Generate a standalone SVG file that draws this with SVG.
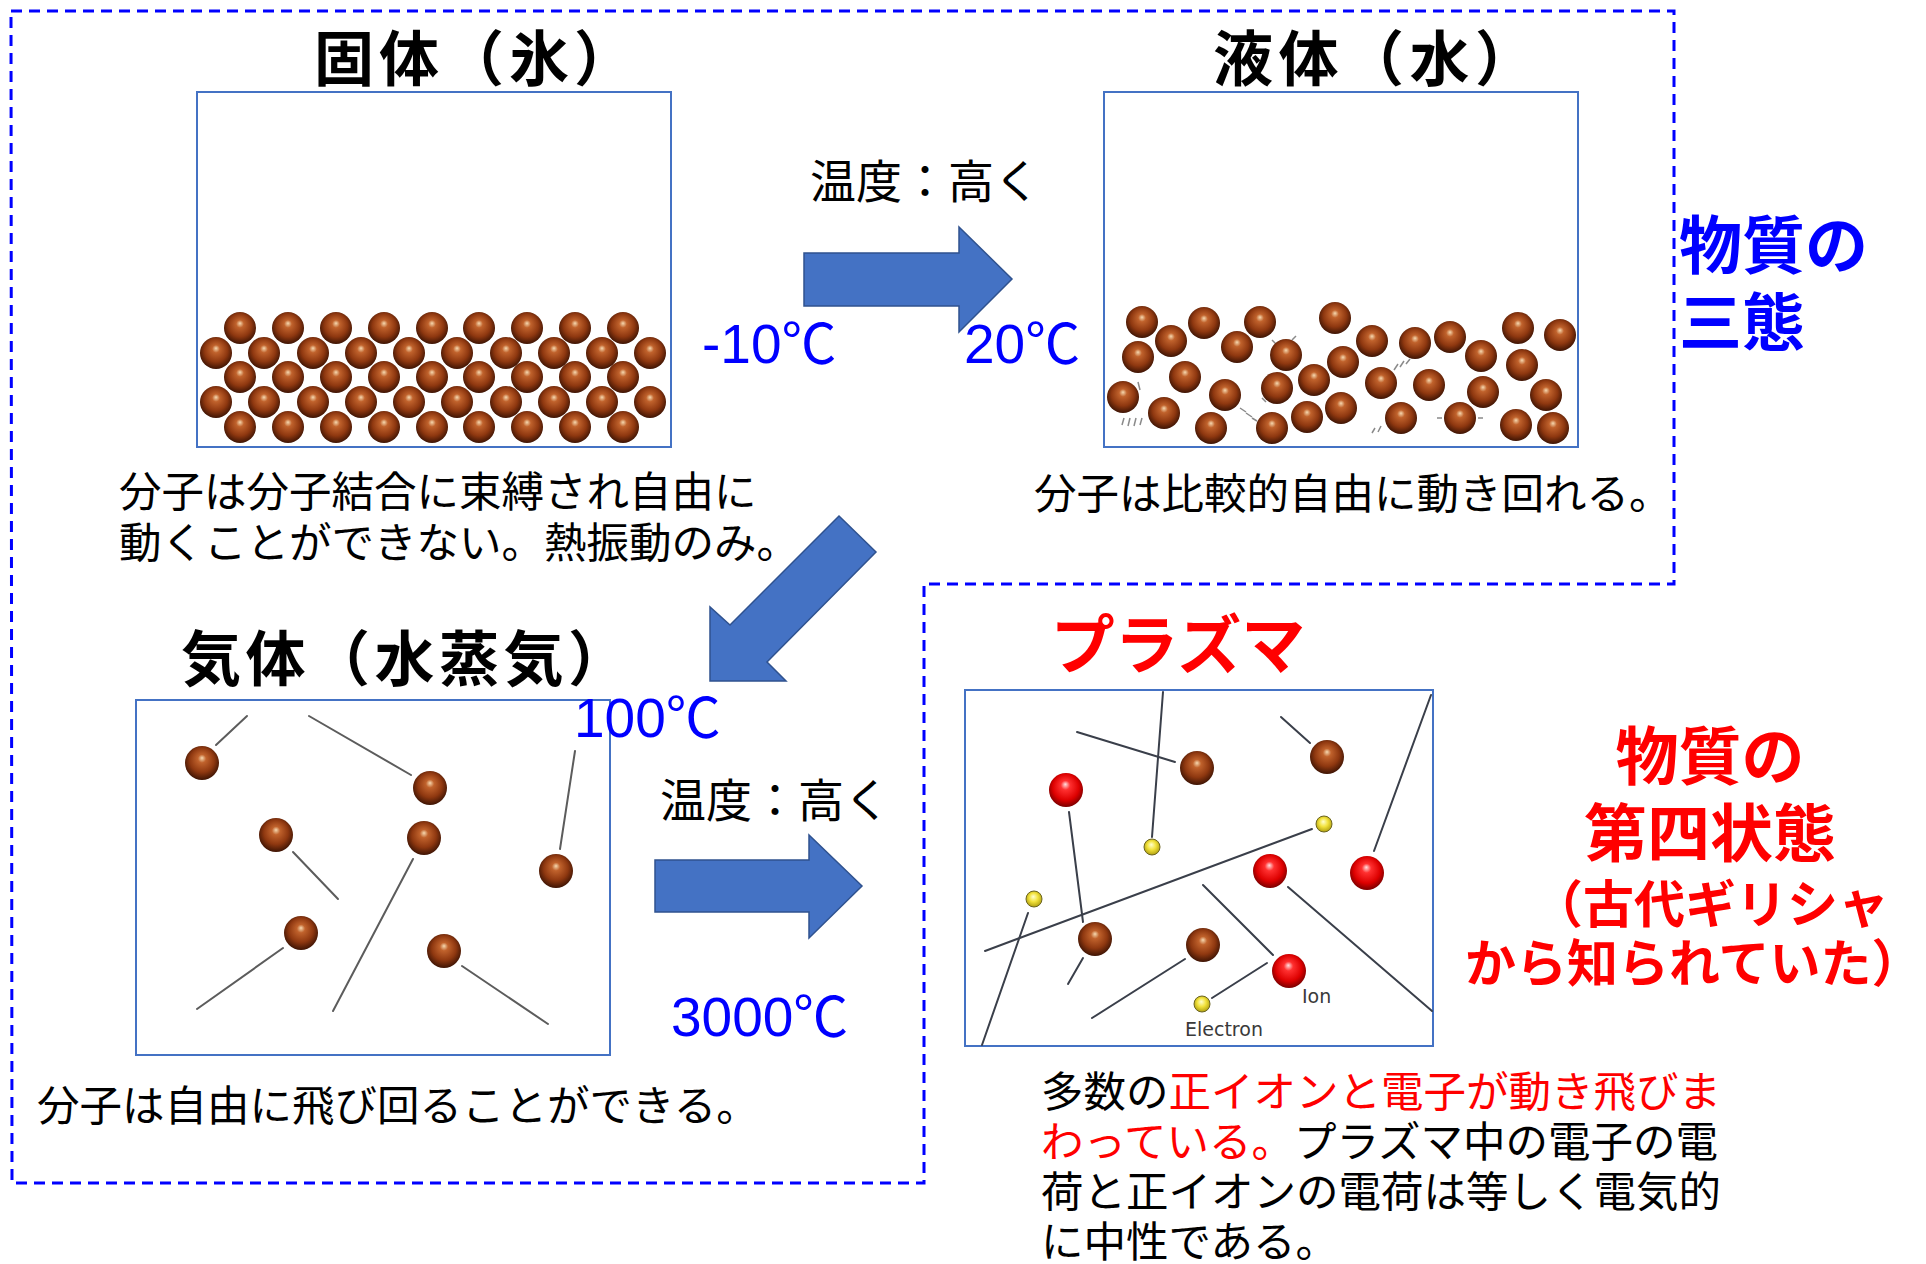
<svg xmlns="http://www.w3.org/2000/svg" width="1926" height="1264" viewBox="0 0 1926 1264">
  <defs>
    <radialGradient id="gBrown" cx="0.5" cy="0.45" r="0.55" fx="0.5" fy="0.35">
      <stop offset="0" stop-color="#f6d9b0"/>
      <stop offset="0.22" stop-color="#c0622c"/>
      <stop offset="0.65" stop-color="#8f3810"/>
      <stop offset="1" stop-color="#3e1404"/>
    </radialGradient>
    <radialGradient id="gRed" cx="0.5" cy="0.45" r="0.55" fx="0.48" fy="0.33">
      <stop offset="0" stop-color="#ffe0e0"/>
      <stop offset="0.25" stop-color="#ff3030"/>
      <stop offset="0.7" stop-color="#dd0000"/>
      <stop offset="1" stop-color="#7a0000"/>
    </radialGradient>
    <radialGradient id="gYel" cx="0.5" cy="0.45" r="0.55" fx="0.45" fy="0.35">
      <stop offset="0" stop-color="#ffffd0"/>
      <stop offset="0.5" stop-color="#f2e23c"/>
      <stop offset="1" stop-color="#b0a010"/>
    </radialGradient>
    <style>
      .frame { fill: none; stroke: #0000ff; stroke-width: 3; stroke-dasharray: 11 7; }
      .box { fill: #ffffff; stroke: #4472c4; stroke-width: 2; }
      .mol { fill: url(#gBrown); }
      .ion { fill: url(#gRed); }
      .ele { fill: url(#gYel); stroke: #6b6420; stroke-width: 1; }
      .trail { stroke: #5c5c5c; stroke-width: 2; fill: none; stroke-linecap: round; }
      .ptrail { stroke: #3a3f4a; stroke-width: 2; fill: none; stroke-linecap: round; }
      .tick { stroke: #8a8a8a; stroke-width: 1.5; fill: none; }
      .arrow { fill: #4472c4; stroke: #2f528f; stroke-width: 1.5; }
      .title { font-family: "Noto Sans CJK JP", sans-serif; font-size: 60px; font-weight: 700; fill: #000000; }
      .desc { font-family: "Noto Sans CJK JP", sans-serif; font-size: 42.5px; fill: #000000; }
      .temp { font-family: "Liberation Sans", "Noto Sans CJK JP", sans-serif; font-size: 55px; fill: #0000ff; }
      .deg { font-family: "Noto Sans CJK JP", sans-serif; }
      .heat { font-family: "Noto Sans CJK JP", sans-serif; font-size: 46px; fill: #000000; }
      .state { font-family: "Noto Sans CJK JP", sans-serif; font-weight: 700; }
      .red { fill: #ff0000; }
      .lbl { font-family: "DejaVu Sans", "Liberation Sans", sans-serif; font-size: 19px; fill: #3a3a3a; }
    </style>
  </defs>

  <rect width="1926" height="1264" fill="#ffffff"/>

  <!-- dashed outline around the three ordinary states -->
  <path class="frame" d="M11,11 H1674 V584 H924 V1183 H12 Z"/>

  <!-- solid: ice -->
  <g id="solid">
    <text class="title" x="314" y="81" textLength="320" lengthAdjust="spacing">固体（氷）</text>
    <rect class="box" x="197" y="92" width="474" height="355"/>
    <g>
      <circle class="mol" cx="240" cy="328" r="16"/><circle class="mol" cx="288" cy="328" r="16"/><circle class="mol" cx="336" cy="328" r="16"/><circle class="mol" cx="384" cy="328" r="16"/><circle class="mol" cx="432" cy="328" r="16"/><circle class="mol" cx="479" cy="328" r="16"/><circle class="mol" cx="527" cy="328" r="16"/><circle class="mol" cx="575" cy="328" r="16"/><circle class="mol" cx="623" cy="328" r="16"/>
      <circle class="mol" cx="216" cy="353" r="16"/><circle class="mol" cx="264" cy="353" r="16"/><circle class="mol" cx="313" cy="353" r="16"/><circle class="mol" cx="361" cy="353" r="16"/><circle class="mol" cx="409" cy="353" r="16"/><circle class="mol" cx="457" cy="353" r="16"/><circle class="mol" cx="506" cy="353" r="16"/><circle class="mol" cx="554" cy="353" r="16"/><circle class="mol" cx="602" cy="353" r="16"/><circle class="mol" cx="650" cy="353" r="16"/>
      <circle class="mol" cx="240" cy="377" r="16"/><circle class="mol" cx="288" cy="377" r="16"/><circle class="mol" cx="336" cy="377" r="16"/><circle class="mol" cx="384" cy="377" r="16"/><circle class="mol" cx="432" cy="377" r="16"/><circle class="mol" cx="479" cy="377" r="16"/><circle class="mol" cx="527" cy="377" r="16"/><circle class="mol" cx="575" cy="377" r="16"/><circle class="mol" cx="623" cy="377" r="16"/>
      <circle class="mol" cx="216" cy="402" r="16"/><circle class="mol" cx="264" cy="402" r="16"/><circle class="mol" cx="313" cy="402" r="16"/><circle class="mol" cx="361" cy="402" r="16"/><circle class="mol" cx="409" cy="402" r="16"/><circle class="mol" cx="457" cy="402" r="16"/><circle class="mol" cx="506" cy="402" r="16"/><circle class="mol" cx="554" cy="402" r="16"/><circle class="mol" cx="602" cy="402" r="16"/><circle class="mol" cx="650" cy="402" r="16"/>
      <circle class="mol" cx="240" cy="427" r="16"/><circle class="mol" cx="288" cy="427" r="16"/><circle class="mol" cx="336" cy="427" r="16"/><circle class="mol" cx="384" cy="427" r="16"/><circle class="mol" cx="432" cy="427" r="16"/><circle class="mol" cx="479" cy="427" r="16"/><circle class="mol" cx="527" cy="427" r="16"/><circle class="mol" cx="575" cy="427" r="16"/><circle class="mol" cx="623" cy="427" r="16"/>
    </g>
    <text class="desc" x="119" y="507">分子は分子結合に束縛され自由に</text>
    <text class="desc" x="119" y="558">動くことができない。熱振動のみ。</text>
  </g>

  <!-- liquid: water -->
  <g id="liquid">
    <text class="title" x="1213" y="81" textLength="322" lengthAdjust="spacing">液体（水）</text>
    <rect class="box" x="1104" y="92" width="474" height="355"/>
    <g>
      <path class="tick" d="M1122,425 l2,-7 M1128,426 l2,-8 M1134,426 l2,-8 M1140,425 l2,-7 M1240,408 l6,4 M1246,413 l6,4 M1252,418 l5,3 M1372,433 l3,-5 M1378,432 l3,-6 M1394,370 l4,-6 M1400,367 l4,-6 M1406,364 l4,-5 M1138,382 l2,8 M1262,398 l4,4 M1272,340 l4,4 M1292,340 l4,-4 M1437,418 l5,0 M1478,418 l5,0"/>
      <circle class="mol" cx="1142" cy="322" r="16"/><circle class="mol" cx="1204" cy="323" r="16"/><circle class="mol" cx="1260" cy="322" r="16"/><circle class="mol" cx="1335" cy="318" r="16"/>
      <circle class="mol" cx="1171" cy="341" r="16"/><circle class="mol" cx="1237" cy="347" r="16"/><circle class="mol" cx="1372" cy="341" r="16"/><circle class="mol" cx="1415" cy="343" r="16"/><circle class="mol" cx="1450" cy="337" r="16"/><circle class="mol" cx="1518" cy="328" r="16"/><circle class="mol" cx="1560" cy="335" r="16"/>
      <circle class="mol" cx="1138" cy="357" r="16"/><circle class="mol" cx="1286" cy="355" r="16"/><circle class="mol" cx="1343" cy="362" r="16"/><circle class="mol" cx="1481" cy="356" r="16"/><circle class="mol" cx="1522" cy="365" r="16"/>
      <circle class="mol" cx="1185" cy="377" r="16"/><circle class="mol" cx="1314" cy="380" r="16"/><circle class="mol" cx="1277" cy="388" r="16"/><circle class="mol" cx="1381" cy="383" r="16"/><circle class="mol" cx="1429" cy="385" r="16"/><circle class="mol" cx="1483" cy="392" r="16"/><circle class="mol" cx="1546" cy="395" r="16"/>
      <circle class="mol" cx="1123" cy="397" r="16"/><circle class="mol" cx="1225" cy="395" r="16"/><circle class="mol" cx="1164" cy="413" r="16"/>
      <circle class="mol" cx="1307" cy="417" r="16"/><circle class="mol" cx="1341" cy="408" r="16"/><circle class="mol" cx="1401" cy="418" r="16"/><circle class="mol" cx="1460" cy="418" r="16"/>
      <circle class="mol" cx="1211" cy="428" r="16"/><circle class="mol" cx="1272" cy="428" r="16"/><circle class="mol" cx="1516" cy="425" r="16"/><circle class="mol" cx="1553" cy="428" r="16"/>
    </g>
    <text class="desc" x="1034" y="509">分子は比較的自由に動き回れる。</text>
  </g>

  <!-- gas: water vapour -->
  <g id="gas">
    <text class="title" x="181" y="681" textLength="447" lengthAdjust="spacing">気体（水蒸気）</text>
    <rect class="box" x="136" y="700" width="474" height="355"/>
    <g>
      <line class="trail" x1="216" y1="745" x2="247" y2="716"/>
      <line class="trail" x1="411" y1="775" x2="309" y2="716"/>
      <line class="trail" x1="293" y1="852" x2="338" y2="899"/>
      <line class="trail" x1="413" y1="859" x2="333" y2="1011"/>
      <line class="trail" x1="560" y1="849" x2="575" y2="751"/>
      <line class="trail" x1="283" y1="948" x2="197" y2="1009"/>
      <line class="trail" x1="462" y1="966" x2="548" y2="1024"/>
      <circle class="mol" cx="202" cy="763" r="17"/>
      <circle class="mol" cx="430" cy="788" r="17"/>
      <circle class="mol" cx="276" cy="835" r="17"/>
      <circle class="mol" cx="424" cy="838" r="17"/>
      <circle class="mol" cx="556" cy="871" r="17"/>
      <circle class="mol" cx="301" cy="933" r="17"/>
      <circle class="mol" cx="444" cy="951" r="17"/>
    </g>
    <text class="desc" x="37" y="1121">分子は自由に飛び回ることができる。</text>
  </g>

  <!-- plasma -->
  <g id="plasma">
    <text class="title red" x="1178" y="668" text-anchor="middle" style="font-size:64px">プラズマ</text>
    <rect class="box" x="965" y="690" width="468" height="356"/>
    <g>
      <line class="ptrail" x1="1077" y1="732" x2="1175" y2="762"/>
      <line class="ptrail" x1="1163" y1="692" x2="1152" y2="837"/>
      <line class="ptrail" x1="1281" y1="717" x2="1310" y2="743"/>
      <line class="ptrail" x1="1431" y1="695" x2="1374" y2="851"/>
      <line class="ptrail" x1="1069" y1="812" x2="1083" y2="922"/>
      <line class="ptrail" x1="985" y1="951" x2="1312" y2="829"/>
      <line class="ptrail" x1="1028" y1="913" x2="982" y2="1045"/>
      <line class="ptrail" x1="1083" y1="958" x2="1068" y2="984"/>
      <line class="ptrail" x1="1185" y1="959" x2="1092" y2="1018"/>
      <line class="ptrail" x1="1203" y1="885" x2="1273" y2="955"/>
      <line class="ptrail" x1="1288" y1="887" x2="1432" y2="1011"/>
      <line class="ptrail" x1="1212" y1="998" x2="1267" y2="963"/>
      <circle class="mol" cx="1197" cy="768" r="17"/>
      <circle class="mol" cx="1327" cy="757" r="17"/>
      <circle class="mol" cx="1095" cy="939" r="17"/>
      <circle class="mol" cx="1203" cy="945" r="17"/>
      <circle class="ion" cx="1066" cy="790" r="17"/>
      <circle class="ion" cx="1270" cy="871" r="17"/>
      <circle class="ion" cx="1367" cy="873" r="17"/>
      <circle class="ion" cx="1289" cy="971" r="17"/>
      <circle class="ele" cx="1152" cy="847" r="8"/>
      <circle class="ele" cx="1324" cy="824" r="8"/>
      <circle class="ele" cx="1034" cy="899" r="8"/>
      <circle class="ele" cx="1202" cy="1004" r="8"/>
      <text class="lbl" x="1302" y="1003">Ion</text>
      <text class="lbl" x="1185" y="1036">Electron</text>
    </g>
    <text class="desc" x="1041" y="1107">多数の<tspan class="red">正イオンと電子が動き飛びま</tspan></text>
    <text class="desc" x="1041" y="1157"><tspan class="red">わっている。</tspan>プラズマ中の電子の電</text>
    <text class="desc" x="1041" y="1207">荷と正イオンの電荷は等しく電気的</text>
    <text class="desc" x="1041" y="1257">に中性である。</text>
  </g>

  <!-- temperature labels -->
  <g id="temperatures">
    <text class="heat" x="810" y="198">温度：高く</text>
    <text class="heat" x="660" y="817">温度：高く</text>
    <text class="temp" x="702" y="363">-10<tspan class="deg">℃</tspan></text>
    <text class="temp" x="964" y="363">20<tspan class="deg">℃</tspan></text>
    <text class="temp" x="574" y="737">100<tspan class="deg">℃</tspan></text>
    <text class="temp" x="671" y="1036">3000<tspan class="deg">℃</tspan></text>
  </g>

  <!-- side captions -->
  <g id="three-states">
    <text class="state" x="1679" y="268" style="font-size:63px;fill:#0000ff">物質の</text>
    <text class="state" x="1679" y="345" style="font-size:63px;fill:#0000ff">三態</text>
  </g>
  <g id="fourth-state">
    <text class="state red" x="1710" y="779" text-anchor="middle" style="font-size:63px">物質の</text>
    <text class="state red" x="1710" y="856" text-anchor="middle" style="font-size:63px">第四状態</text>
    <text class="state red" x="1532" y="923" style="font-size:51px">（古代ギリシャ</text>
    <text class="state red" x="1465" y="982" style="font-size:51px">から知られていた）</text>
  </g>

  <!-- block arrows between the states -->
  <g id="connectors">
    <polygon class="arrow" points="804,253 959,253 959,227 1012,279 959,332 959,306 804,306"/>
    <polygon class="arrow" points="839,516 876,552 767,662 786,681 710,681 710,607 730,625"/>
    <polygon class="arrow" points="655,860 809,860 809,835 862,886 809,938 809,912 655,912"/>
  </g>
</svg>
